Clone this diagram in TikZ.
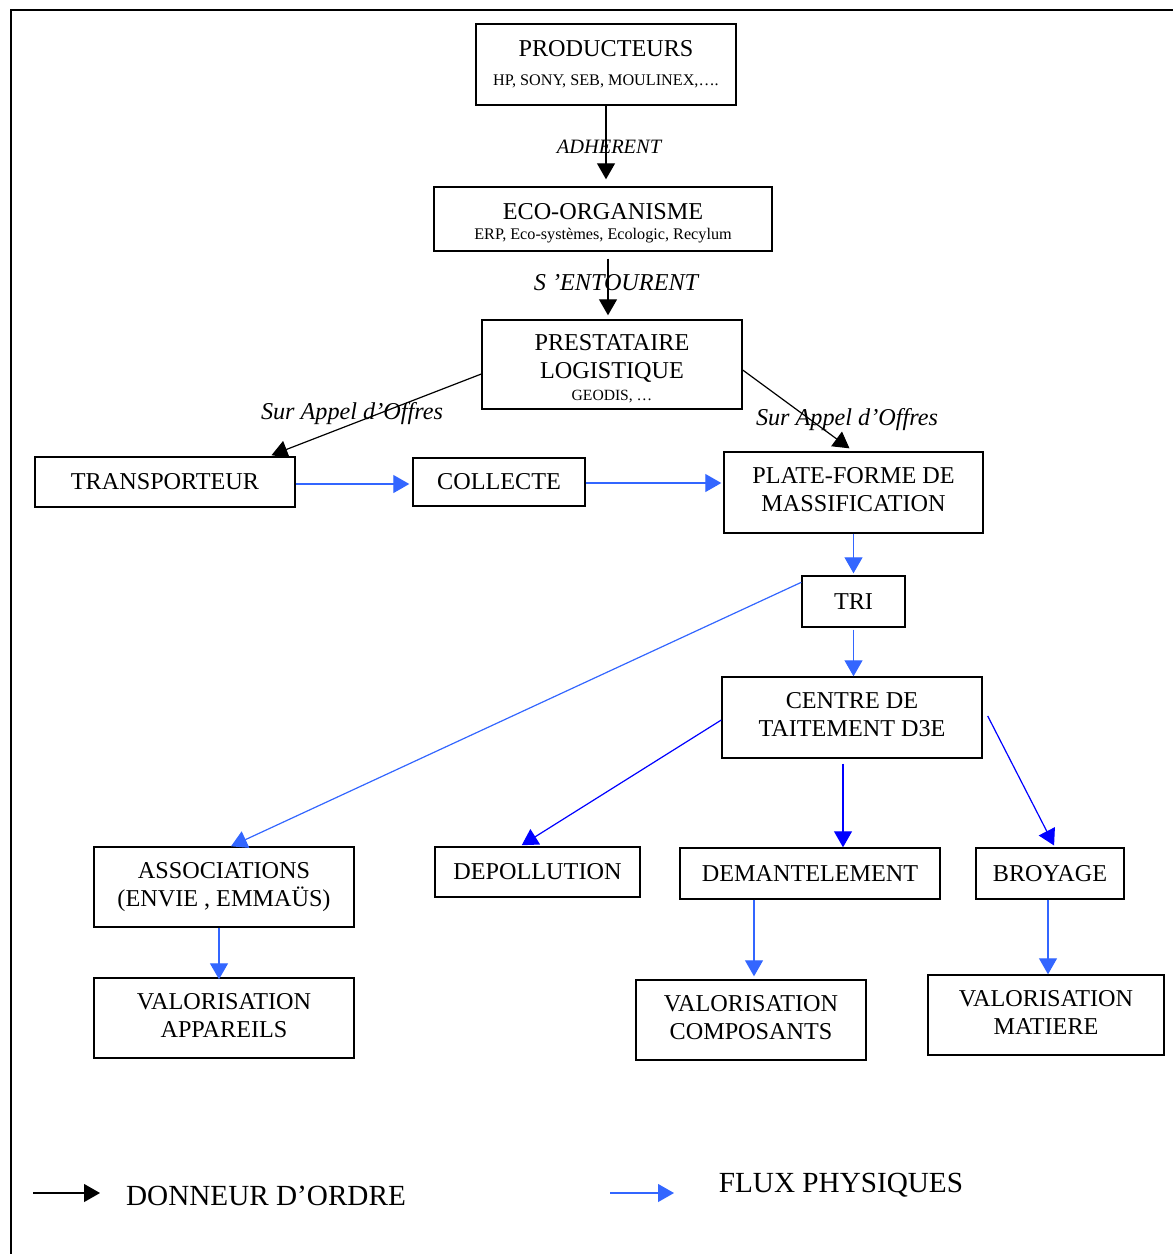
\documentclass[tikz,border=0pt]{standalone}
\usepackage{fontspec}
\setmainfont{Liberation Serif}
\usetikzlibrary{arrows.meta}
\definecolor{fluxclair}{RGB}{51,102,255}
\definecolor{fluxfonce}{RGB}{0,0,255}
\newcommand{\fin}{\rule[-3pt]{0pt}{3pt}}
\tikzset{
  boite/.style={draw, line width=0.7pt, rectangle, inner sep=0pt, align=center,
    font=\fontsize{12.1}{14}\selectfont},
  etiquette/.style={font=\fontsize{12.1}{14}\selectfont\itshape, inner sep=0pt},
  legende/.style={font=\fontsize{14.6}{17}\selectfont, inner sep=0pt},
  ordre/.style={draw, line width=0.6pt, -{Triangle[length=8pt,width=9pt]}},
  flux/.style={draw, line width=0.6pt, fluxclair, -{Triangle[length=8pt,width=9pt]}},
  fluxb/.style={draw, line width=0.6pt, fluxfonce, -{Triangle[length=8pt,width=9pt]}}
}
\begin{document}
\begin{tikzpicture}[x=0.5pt, y=-0.5pt]
\useasboundingbox (0,0) rectangle (1173,1254);
\draw[line width=1pt] (11,1254) -- (11,10) -- (1173,10);
\node[boite, minimum width=130pt, minimum height=40.5pt] (prod) at (606,64.5) {PRODUCTEURS\\[0.5pt] {\fontsize{8.1}{9}\selectfont HP, SONY, SEB, MOULINEX,….}};
\node[boite, minimum width=169pt, minimum height=32pt] (eco) at (603,219) {\rule{0pt}{12pt}ECO-ORGANISME\\[-4pt] {\fontsize{8.1}{9}\selectfont ERP, Eco-systèmes, Ecologic, Recylum}};
\node[boite, minimum width=130pt, minimum height=44.5pt] (presta) at (612,364.5) {\rule{0pt}{12.5pt}PRESTATAIRE\\LOGISTIQUE\\[-3pt] {\fontsize{7.8}{9}\selectfont GEODIS, …}};
\node[boite, minimum width=130pt, minimum height=25pt] (transp) at (165,482) {TRANSPORTEUR};
\node[boite, minimum width=86pt, minimum height=24pt] (collecte) at (499,482) {COLLECTE};
\node[boite, minimum width=129.5pt, minimum height=40.5pt] (plate) at (853.5,492.5) {PLATE-FORME DE\\MASSIFICATION\fin};
\node[boite, minimum width=51.5pt, minimum height=25.5pt] (tri) at (853.5,601.5) {TRI};
\node[boite, minimum width=130pt, minimum height=40.5pt] (centre) at (852,717.5) {CENTRE DE\\TAITEMENT D3E\fin};
\node[boite, minimum width=130pt, minimum height=40pt] (assoc) at (224,887) {ASSOCIATIONS\\(ENVIE , EMMAÜS)};
\node[boite, minimum width=102.5pt, minimum height=25pt] (depol) at (537.5,872) {DEPOLLUTION};
\node[boite, minimum width=130pt, minimum height=25.5pt] (deman) at (810,873.5) {DEMANTELEMENT};
\node[boite, minimum width=74pt, minimum height=25.5pt] (broy) at (1050,873.5) {BROYAGE};
\node[boite, minimum width=130pt, minimum height=40pt] (valapp) at (224,1018) {VALORISATION\\APPAREILS\fin};
\node[boite, minimum width=115pt, minimum height=40pt] (valcomp) at (751,1020) {VALORISATION\\COMPOSANTS\fin};
\node[boite, minimum width=118pt, minimum height=40pt] (valmat) at (1046,1015) {VALORISATION\\MATIERE\fin};
\node[etiquette, font=\fontsize{10.2}{12}\selectfont\itshape] (adh) at (609,147) {ADHERENT};
\node[etiquette] (entour) at (616,283) {S ’ENTOURENT};
\node[etiquette] (appel1) at (352,414) {Sur Appel d’Offres};
\node[etiquette] (appel2) at (847,420) {Sur Appel d’Offres};
\path[ordre, shorten >=3.5pt] (prod.south) -- (prod.south |- eco.north);
\path[ordre, shorten <=3.5pt, shorten >=2pt] ([xshift=2.5pt]eco.south) -- ([xshift=2.5pt]eco.south |- presta.north);
\path[ordre, shorten >=1.5pt] ([yshift=-4.75pt]presta.west) -- ([xshift=-13.5pt]transp.north east);
\path[ordre, shorten >=2.5pt] ([yshift=-2.75pt]presta.east) -- (plate.north);
\path[flux, shorten >=1.5pt] ([yshift=-1pt]transp.east) -- ([yshift=-1pt]collecte.west);
\path[flux, shorten >=1pt] ([yshift=-0.5pt]collecte.east) -- ([yshift=-0.5pt]collecte.east -| plate.west);
\path[flux, shorten >=1pt] (plate.south) -- (tri.north);
\path[flux, shorten <=1pt] (tri.south) -- (tri.south |- centre.north);
\path[flux] ([yshift=-3.5pt]tri.north west) -- ([xshift=3.5pt]assoc.north);
\path[fluxb, shorten >=1pt] ([yshift=-1.25pt]centre.west) -- ([xshift=-8.75pt]depol.north);
\path[fluxb, shorten <=2.5pt] ([xshift=-4.5pt]centre.south) -- ([xshift=-4.5pt]centre.south |- deman.north);
\path[fluxb, shorten >=1pt] ([xshift=2.5pt, yshift=0.75pt]centre.east) -- ([xshift=2.5pt]broy.north);
\path[flux, shorten >=-1pt] ([xshift=-2.5pt]assoc.south) -- ([xshift=-2.5pt]valapp.north);
\path[flux, shorten >=1.5pt] ([xshift=1.5pt]valcomp.north |- deman.south) -- ([xshift=1.5pt]valcomp.north);
\path[flux] ([xshift=-1pt]broy.south) -- ([xshift=-1pt]broy.south |- valmat.north);
\coordinate (o1) at (33,1193);
\coordinate (o2) at (100,1193);
\coordinate (f1) at (610,1193);
\coordinate (f2) at (674,1193);
\path[ordre] (o1) -- (o2);
\path[flux] (f1) -- (f2);
\node[legende] (lordre) at (266,1196) {DONNEUR D’ORDRE};
\node[legende] (lflux) at (841,1185) {FLUX PHYSIQUES};
\end{tikzpicture}
\end{document}
